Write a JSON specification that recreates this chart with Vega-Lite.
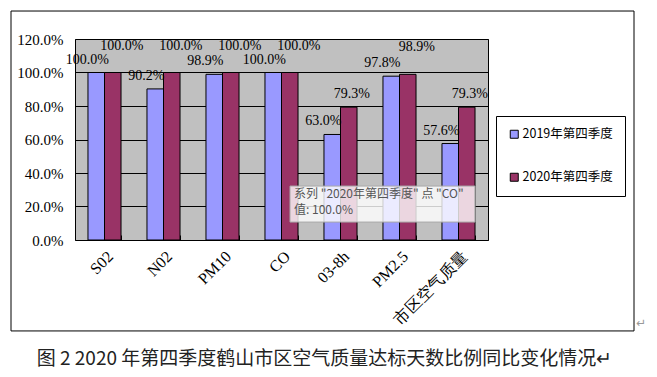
{
  "$schema": "https://vega.github.io/schema/vega-lite/v6.json",
  "width": 413,
  "height": 201,
  "autosize": {"type": "pad"},
  "padding": {"left": 10, "top": 10, "right": 5, "bottom": 5},
  "background": "white",
  "title": {
    "text": "图 2  2020 年第四季度鹤山市区空气质量达标天数比例同比变化情况↵",
    "orient": "bottom",
    "offset": 19,
    "dx": 43,
    "font": "Noto Sans CJK SC",
    "fontSize": 19,
    "fontWeight": "normal",
    "color": "#222222",
    "anchor": "middle"
  },
  "datasets": {
    "bars": [
      {"cat": "S02", "series": "2019年第四季度", "value": 1.0},
      {"cat": "S02", "series": "2020年第四季度", "value": 1.0},
      {"cat": "N02", "series": "2019年第四季度", "value": 0.902},
      {"cat": "N02", "series": "2020年第四季度", "value": 1.0},
      {"cat": "PM10", "series": "2019年第四季度", "value": 0.989},
      {"cat": "PM10", "series": "2020年第四季度", "value": 1.0},
      {"cat": "CO", "series": "2019年第四季度", "value": 1.0},
      {"cat": "CO", "series": "2020年第四季度", "value": 1.0},
      {"cat": "03-8h", "series": "2019年第四季度", "value": 0.63},
      {"cat": "03-8h", "series": "2020年第四季度", "value": 0.793},
      {"cat": "PM2.5", "series": "2019年第四季度", "value": 0.978},
      {"cat": "PM2.5", "series": "2020年第四季度", "value": 0.989},
      {"cat": "市区空气质量", "series": "2019年第四季度", "value": 0.576},
      {"cat": "市区空气质量", "series": "2020年第四季度", "value": 0.793}
    ],
    "tip": [
      {"label": "系列 \"2020年第四季度\" 点 \"CO\"\n值: 100.0%"}
    ]
  },
  "config": {
    "view": {"fill": "#C0C0C0", "stroke": "black", "strokeWidth": 1},
    "text": {"font": "Liberation Serif", "fontSize": 14, "color": "black"},
    "axisY": {"labelOverlap": false, "tickCount": 7}
  },
  "layer": [
    {
      "data": {"name": "bars"},
      "mark": {"type": "bar", "stroke": "black", "strokeWidth": 1},
      "encoding": {
        "x": {
          "field": "cat", "type": "nominal", "sort": null,
          "scale": {"paddingInner": 0.44, "paddingOuter": 0.22},
          "axis": {
            "title": null, "labelAngle": -45, "labelFont": "Liberation Serif",
            "labelFontSize": 16, "labelColor": "black", "labelPadding": 8,
            "domain": false, "grid": false, "ticks": true, "tickBand": "extent",
            "offset": -5, "tickSize": 5, "tickColor": "black", "tickWidth": 1
          }
        },
        "xOffset": {"field": "series", "type": "nominal", "scale": {"paddingInner": 0, "paddingOuter": 0}},
        "y": {
          "field": "value", "type": "quantitative",
          "scale": {"domain": [0, 1.2], "nice": false, "zero": true},
          "axis": {
            "title": null, "format": ".1%", "values": [0, 0.2, 0.4, 0.6, 0.8, 1.0, 1.2],
            "labelOverlap": false, "tickCount": 7,
            "labelFont": "Liberation Serif", "labelFontSize": 15, "labelColor": "black",
            "labelPadding": 12, "ticks": false, "domain": false,
            "grid": true, "gridColor": "black", "gridOpacity": 1, "gridWidth": 1
          }
        },
        "color": {
          "field": "series", "type": "nominal",
          "scale": {"range": ["#9999FF", "#993366"]},
          "legend": {
            "title": null, "orient": "none", "legendX": 421, "legendY": 77,
            "strokeColor": "black", "fillColor": "white", "padding": 12, "rowPadding": 30,
            "symbolType": "square", "symbolSize": 64, "symbolStrokeColor": "black",
            "symbolStrokeWidth": 1, "symbolOpacity": 1,
            "labelFont": "Noto Sans CJK SC", "labelFontSize": 12.5, "labelColor": "black", "labelOffset": 2
          }
        }
      }
    },
    {
      "data": {"values": [{}]},
      "mark": {"type": "rect", "fill": "white", "fillOpacity": 0, "stroke": "black", "strokeWidth": 1},
      "encoding": {
        "x": {"value": -64},
        "x2": {"value": 559},
        "y": {"datum": 1.367},
        "y2": {"datum": -0.543}
      }
    },
    {
      "data": {"name": "bars"},
      "transform": [{"filter": "datum.series === '2019年第四季度'"}],
      "mark": {"type": "text", "dx": -9, "dy": -13, "baseline": "middle"},
      "encoding": {
        "x": {"field": "cat", "type": "nominal", "sort": null},
        "xOffset": {"field": "series", "type": "nominal"},
        "y": {"field": "value", "type": "quantitative"},
        "text": {"field": "value", "type": "quantitative", "format": ".1%"}
      }
    },
    {
      "data": {"name": "bars"},
      "transform": [{"filter": "datum.series === '2020年第四季度' && datum.value >= 0.97"}],
      "mark": {"type": "text", "dx": 9, "dy": -27, "baseline": "middle"},
      "encoding": {
        "x": {"field": "cat", "type": "nominal", "sort": null},
        "xOffset": {"field": "series", "type": "nominal"},
        "y": {"field": "value", "type": "quantitative"},
        "text": {"field": "value", "type": "quantitative", "format": ".1%"}
      }
    },
    {
      "data": {"name": "bars"},
      "transform": [{"filter": "datum.series === '2020年第四季度' && datum.value < 0.97"}],
      "mark": {"type": "text", "dx": 3, "dy": -13, "baseline": "middle"},
      "encoding": {
        "x": {"field": "cat", "type": "nominal", "sort": null},
        "xOffset": {"field": "series", "type": "nominal"},
        "y": {"field": "value", "type": "quantitative"},
        "text": {"field": "value", "type": "quantitative", "format": ".1%"}
      }
    },
    {
      "data": {"name": "tip"},
      "mark": {"type": "rect", "fill": "white", "fillOpacity": 0.8, "stroke": "#a8a8a8", "strokeWidth": 1},
      "encoding": {
        "x": {"value": 215},
        "x2": {"value": 400},
        "y": {"datum": 0.322},
        "y2": {"datum": 0.107}
      }
    },
    {
      "data": {"name": "tip"},
      "mark": {"type": "text", "align": "left", "baseline": "top", "lineBreak": "\n", "lineHeight": 16,
               "font": "Noto Sans CJK SC", "fontSize": 12, "color": "#555555"},
      "encoding": {
        "x": {"value": 219},
        "y": {"datum": 0.305},
        "text": {"field": "label"}
      }
    },
    {
      "data": {"values": [{}]},
      "mark": {"type": "text", "align": "left", "baseline": "middle", "font": "DejaVu Sans", "fontSize": 12, "color": "#999999"},
      "encoding": {
        "x": {"value": 561},
        "y": {"datum": -0.495},
        "text": {"value": "↵"}
      }
    }
  ]
}
